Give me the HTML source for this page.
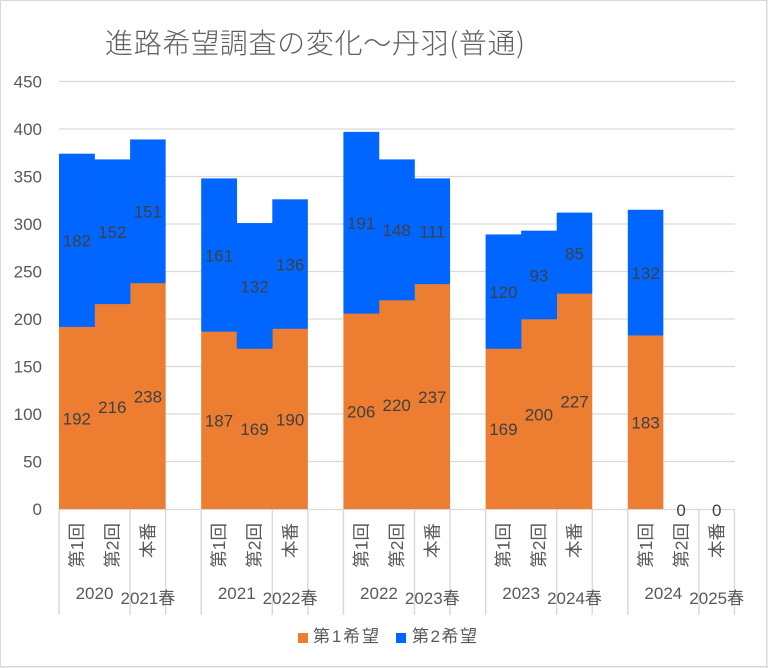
<!DOCTYPE html>
<html>
<head>
<meta charset="utf-8">
<style>
html,body{margin:0;padding:0;background:#fff;}
body{width:768px;height:668px;overflow:hidden;}
svg{display:block;}
text{font-family:"Liberation Sans","Noto Sans CJK JP",sans-serif;}
</style>
</head>
<body>
<svg width="768" height="668" viewBox="0 0 768 668" xmlns="http://www.w3.org/2000/svg">
<rect x="0" y="0" width="768" height="668" fill="#fff"/>
<!-- border -->
<rect x="0.5" y="0.5" width="766" height="666" fill="none" stroke="#d9d9d9" stroke-width="1"/>
<line x1="767" y1="0" x2="767" y2="668" stroke="#d9d9d9" stroke-width="1"/>
<line x1="0" y1="667" x2="768" y2="667" stroke="#d9d9d9" stroke-width="1"/>

<!-- title -->
<text x="105" y="53" font-size="28" font-weight="300" fill="#5f5f5f" textLength="420" lengthAdjust="spacing" style="font-family:'Noto Sans CJK JP','Liberation Sans',sans-serif">進路希望調査の変化～丹羽(普通)</text>

<!-- gridlines -->
<g stroke="#d9d9d9" stroke-width="1.3">
<line x1="59" y1="81.5" x2="735" y2="81.5"/>
<line x1="59" y1="129" x2="735" y2="129"/>
<line x1="59" y1="176.5" x2="735" y2="176.5"/>
<line x1="59" y1="224" x2="735" y2="224"/>
<line x1="59" y1="271.5" x2="735" y2="271.5"/>
<line x1="59" y1="319" x2="735" y2="319"/>
<line x1="59" y1="366.5" x2="735" y2="366.5"/>
<line x1="59" y1="414" x2="735" y2="414"/>
<line x1="59" y1="461.5" x2="735" y2="461.5"/>
<line x1="59" y1="509.5" x2="735" y2="509.5"/>
</g>

<!-- y axis labels -->
<g font-size="17" fill="#595959" text-anchor="end">
<text x="42" y="87.5">450</text>
<text x="42" y="135">400</text>
<text x="42" y="182.5">350</text>
<text x="42" y="230">300</text>
<text x="42" y="277.5">250</text>
<text x="42" y="325">200</text>
<text x="42" y="372.5">150</text>
<text x="42" y="420">100</text>
<text x="42" y="467.5">50</text>
<text x="42" y="515">0</text>
</g>

<!-- orange bars (第1希望) -->
<g fill="#ED7D31">
<rect x="59" y="326.6" width="35.85" height="182.4"/>
<rect x="94.55" y="303.8" width="35.85" height="205.2"/>
<rect x="130.1" y="282.9" width="35.55" height="226.1"/>
<rect x="201.2" y="331.35" width="35.85" height="177.65"/>
<rect x="236.75" y="348.45" width="35.85" height="160.55"/>
<rect x="272.3" y="328.5" width="35.55" height="180.5"/>
<rect x="343.4" y="313.3" width="35.85" height="195.7"/>
<rect x="378.95" y="300" width="35.85" height="209"/>
<rect x="414.5" y="283.85" width="35.55" height="225.15"/>
<rect x="485.6" y="348.45" width="35.85" height="160.55"/>
<rect x="521.15" y="319" width="35.85" height="190"/>
<rect x="556.7" y="293.35" width="35.55" height="215.65"/>
<rect x="627.8" y="335.15" width="35.55" height="173.85"/>
</g>
<!-- blue bars (第2希望) -->
<g fill="#0066FF">
<rect x="59" y="153.7" width="35.85" height="173.2"/>
<rect x="94.55" y="159.4" width="35.85" height="144.7"/>
<rect x="130.1" y="139.45" width="35.55" height="143.75"/>
<rect x="201.2" y="178.4" width="35.85" height="153.25"/>
<rect x="236.75" y="223.05" width="35.85" height="125.7"/>
<rect x="272.3" y="199.3" width="35.55" height="129.5"/>
<rect x="343.4" y="131.85" width="35.85" height="181.75"/>
<rect x="378.95" y="159.4" width="35.85" height="140.9"/>
<rect x="414.5" y="178.4" width="35.55" height="105.75"/>
<rect x="485.6" y="234.45" width="35.85" height="114.3"/>
<rect x="521.15" y="230.65" width="35.85" height="88.65"/>
<rect x="556.7" y="212.6" width="35.55" height="81.05"/>
<rect x="627.8" y="209.75" width="35.55" height="125.7"/>
</g>

<!-- data labels -->
<g font-size="17" fill="#404040" text-anchor="middle">
<text x="76.8" y="424.3">192</text>
<text x="112.3" y="412.9">216</text>
<text x="147.9" y="402.5">238</text>
<text x="219" y="426.7">187</text>
<text x="254.5" y="435.2">169</text>
<text x="290.1" y="425.3">190</text>
<text x="361.2" y="417.7">206</text>
<text x="396.7" y="411">220</text>
<text x="432.3" y="402.9">237</text>
<text x="503.4" y="435.2">169</text>
<text x="538.9" y="420.5">200</text>
<text x="574.5" y="407.7">227</text>
<text x="645.6" y="428.6">183</text>

<text x="76.8" y="246.7">182</text>
<text x="112.3" y="238.1">152</text>
<text x="147.9" y="217.7">151</text>
<text x="219" y="261.4">161</text>
<text x="254.5" y="292.3">132</text>
<text x="290.1" y="270.4">136</text>
<text x="361.2" y="229.1">191</text>
<text x="396.7" y="236.2">148</text>
<text x="432.3" y="237.7">111</text>
<text x="503.4" y="298">120</text>
<text x="538.9" y="281.3">93</text>
<text x="574.5" y="259.5">85</text>
<text x="645.6" y="279">132</text>

<text x="681.1" y="516">0</text>
<text x="716.7" y="516">0</text>
</g>

<!-- category axis separators -->
<g stroke="#d9d9d9" stroke-width="1.4">
<line x1="59" y1="509" x2="59" y2="615"/>
<line x1="130.1" y1="509" x2="130.1" y2="615"/>
<line x1="165.65" y1="509" x2="165.65" y2="615"/>
<line x1="201.2" y1="509" x2="201.2" y2="615"/>
<line x1="272.3" y1="509" x2="272.3" y2="615"/>
<line x1="307.85" y1="509" x2="307.85" y2="615"/>
<line x1="343.4" y1="509" x2="343.4" y2="615"/>
<line x1="414.5" y1="509" x2="414.5" y2="615"/>
<line x1="450.05" y1="509" x2="450.05" y2="615"/>
<line x1="485.6" y1="509" x2="485.6" y2="615"/>
<line x1="556.7" y1="509" x2="556.7" y2="615"/>
<line x1="592.25" y1="509" x2="592.25" y2="615"/>
<line x1="627.8" y1="509" x2="627.8" y2="615"/>
<line x1="698.9" y1="509" x2="698.9" y2="615"/>
<line x1="734.45" y1="509" x2="734.45" y2="615"/>
</g>

<!-- vertical category labels -->
<g font-size="17.5" fill="#595959" text-anchor="end">
<text transform="translate(83,523) rotate(-90)">第1回</text>
<text transform="translate(118.5,523) rotate(-90)">第2回</text>
<text transform="translate(154.1,523) rotate(-90)">本番</text>
<text transform="translate(225.2,523) rotate(-90)">第1回</text>
<text transform="translate(260.7,523) rotate(-90)">第2回</text>
<text transform="translate(296.3,523) rotate(-90)">本番</text>
<text transform="translate(367.4,523) rotate(-90)">第1回</text>
<text transform="translate(402.9,523) rotate(-90)">第2回</text>
<text transform="translate(438.5,523) rotate(-90)">本番</text>
<text transform="translate(509.6,523) rotate(-90)">第1回</text>
<text transform="translate(545.1,523) rotate(-90)">第2回</text>
<text transform="translate(580.7,523) rotate(-90)">本番</text>
<text transform="translate(651.8,523) rotate(-90)">第1回</text>
<text transform="translate(687.3,523) rotate(-90)">第2回</text>
<text transform="translate(722.9,523) rotate(-90)">本番</text>
</g>

<!-- year labels -->
<g font-size="17" fill="#595959" text-anchor="middle">
<text x="94.5" y="599">2020</text>
<text x="147.9" y="604">2021春</text>
<text x="236.75" y="599">2021</text>
<text x="290.1" y="604">2022春</text>
<text x="378.95" y="599">2022</text>
<text x="432.3" y="604">2023春</text>
<text x="521.15" y="599">2023</text>
<text x="574.5" y="604">2024春</text>
<text x="663.35" y="599">2024</text>
<text x="716.7" y="604">2025春</text>
</g>

<!-- legend -->
<rect x="298" y="633" width="10" height="10" fill="#ED7D31"/>
<text x="313" y="642" font-size="17" fill="#595959" textLength="66" lengthAdjust="spacing">第1希望</text>
<rect x="396" y="633" width="10" height="10" fill="#0066FF"/>
<text x="412" y="642" font-size="17" fill="#595959" textLength="65" lengthAdjust="spacing">第2希望</text>
</svg>
</body>
</html>
